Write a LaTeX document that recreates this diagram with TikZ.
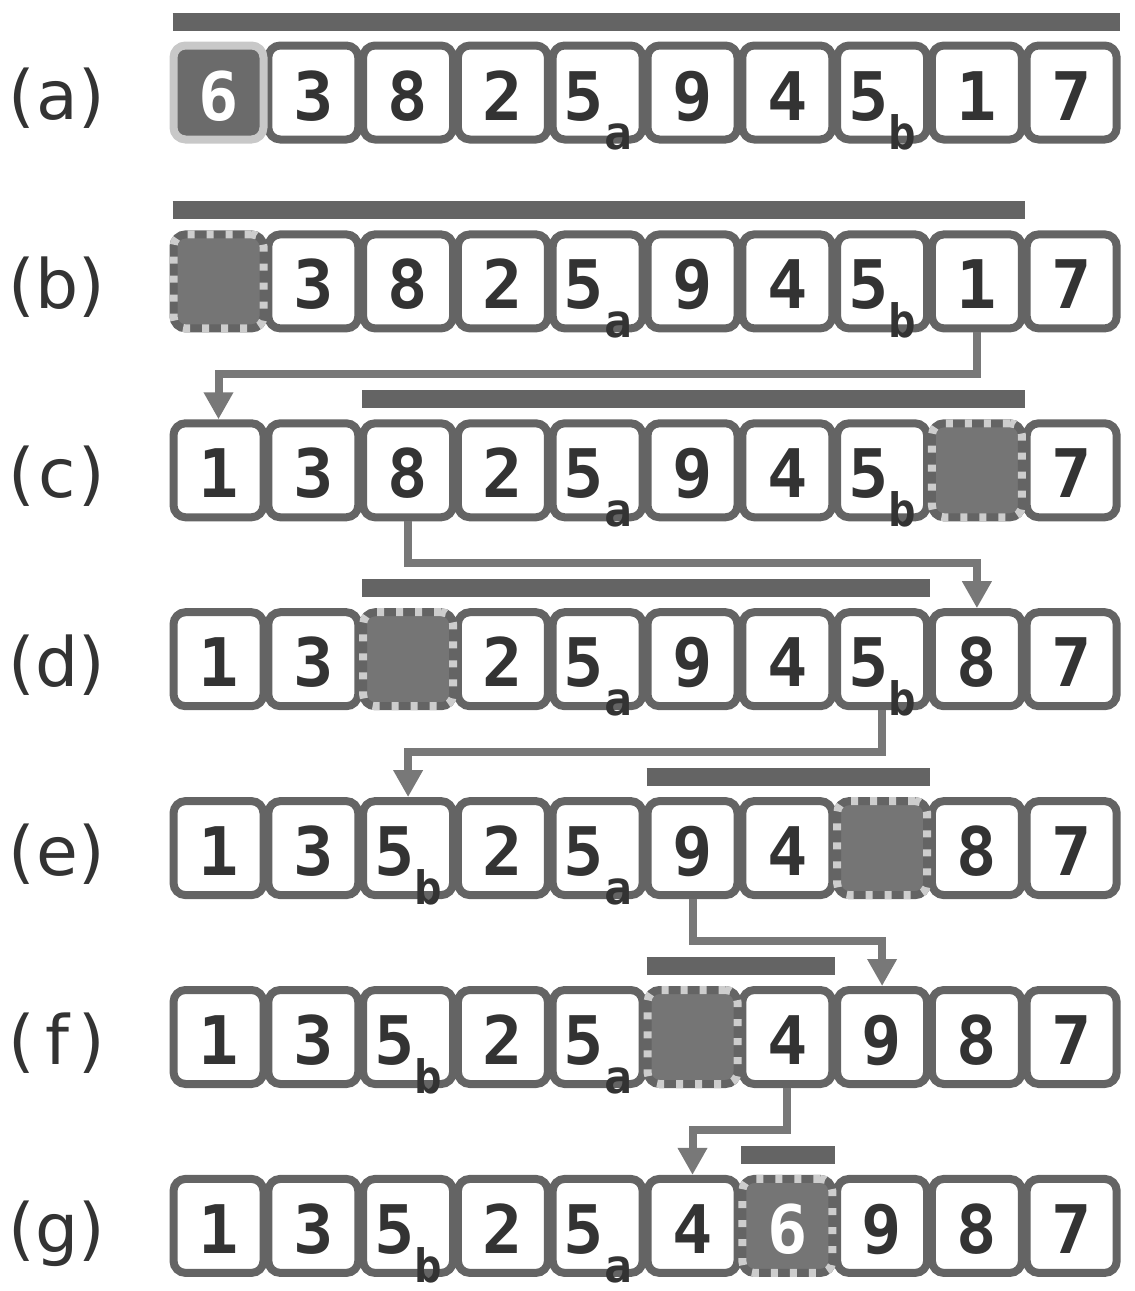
\documentclass[tikz,border=0pt]{standalone}
\usepackage{fontspec}
\setmainfont{DejaVu Sans Mono}
\newfontfamily\labfam{DejaVu Sans}
\usetikzlibrary{arrows.meta}
\definecolor{cellline}{HTML}{646464}
\definecolor{arrowc}{HTML}{787878}
\definecolor{txt}{HTML}{333333}
\definecolor{holefill}{HTML}{757575}
\definecolor{pivfill}{HTML}{6B6B6B}
\definecolor{lightb}{HTML}{C8C8C8}
\definecolor{dashc}{HTML}{CDCDCD}
\newcommand\digitfnt{\fontsize{67}{67}\selectfont\bfseries}
\newcommand\subfnt{\fontsize{46}{46}\selectfont\bfseries}
\newcommand\labfnt{\labfam\fontsize{68}{68}\selectfont}
\newcommand\fivea{5\raisebox{-29pt}{\subfnt a}}
\newcommand\fiveb{5\raisebox{-29pt}{\subfnt b}}
\newcommand\lbl[1]{(\kern1.5pt\makebox[40pt]{#1}\kern1.5pt)}
\begin{document}
\begin{tikzpicture}[x=1pt,y=-1pt,
  cellbox/.style={draw=cellline, fill=white, line width=8pt, rounded corners=12pt,
    minimum width=90pt, minimum height=94pt, inner sep=0pt, text=txt,
    font=\digitfnt, text height=55pt, text depth=0pt},
  holebox/.style={cellbox, fill=holefill,
    postaction={draw=dashc, line width=8pt, dash pattern=on 7pt off 12pt}},
  pivotbox/.style={cellbox, fill=pivfill, draw=lightb, text=white},
  bar/.style={draw=cellline, line width=18pt},
  arr/.style={draw=arrowc, line width=8pt, -{Triangle[width=28pt,length=27pt]}},
  lab/.style={font=\labfnt, text=txt, inner sep=0pt, anchor=base}
]
\useasboundingbox (0,0) rectangle (1135,1291);

% row (a)
\node[lab] (la) at (57,119.5) {\lbl{a}};
\foreach \i/\cc in {1/3,2/8,3/2,4/\fivea,5/9,6/4,7/\fiveb,8/1,9/7}
  \node[cellbox] (a\i) at ({218.5+94.8*\i},92.5) {\cc};
\node[pivotbox] (a0) at (218.5,92.5) {6};
\draw[bar] ([xshift=3pt,yshift=20pt]a0.north west) -- ([xshift=-1pt,yshift=20pt]a9.north east);

% row (b)
\node[lab] (lb) at (57,308.4) {\lbl{b}};
\foreach \i/\cc in {1/3,2/8,3/2,4/\fivea,5/9,6/4,7/\fiveb,8/1,9/7}
  \node[cellbox] (b\i) at ({218.5+94.8*\i},281.4) {\cc};
\node[holebox] (b0) at (218.5,281.4) {};
\draw[bar] ([xshift=3pt,yshift=20pt]b0.north west) -- ([xshift=-1pt,yshift=20pt]b8.north east);

% row (c)
\node[lab] (lc) at (57,497.3) {\lbl{c}};
\foreach \i/\cc in {0/1,1/3,2/8,3/2,4/\fivea,5/9,6/4,7/\fiveb,9/7}
  \node[cellbox] (c\i) at ({218.5+94.8*\i},470.3) {\cc};
\node[holebox] (c8) at ({218.5+94.8*8},470.3) {};
\draw[bar] ([xshift=3pt,yshift=20pt]c2.north west) -- ([xshift=-1pt,yshift=20pt]c8.north east);

% row (d)
\node[lab] (ld) at (57,686.2) {\lbl{d}};
\foreach \i/\cc in {0/1,1/3,3/2,4/\fivea,5/9,6/4,7/\fiveb,8/8,9/7}
  \node[cellbox] (d\i) at ({218.5+94.8*\i},659.2) {\cc};
\node[holebox] (d2) at ({218.5+94.8*2},659.2) {};
\draw[bar] ([xshift=3pt,yshift=20pt]d2.north west) -- ([xshift=-1pt,yshift=20pt]d7.north east);

% row (e)
\node[lab] (le) at (57,875.1) {\lbl{e}};
\foreach \i/\cc in {0/1,1/3,2/\fiveb,3/2,4/\fivea,5/9,6/4,8/8,9/7}
  \node[cellbox] (e\i) at ({218.5+94.8*\i},848.1) {\cc};
\node[holebox] (e7) at ({218.5+94.8*7},848.1) {};
\draw[bar] ([xshift=3pt,yshift=20pt]e5.north west) -- ([xshift=-1pt,yshift=20pt]e7.north east);

% row (f)
\node[lab] (lf) at (57,1064) {\lbl{f}};
\foreach \i/\cc in {0/1,1/3,2/\fiveb,3/2,4/\fivea,6/4,7/9,8/8,9/7}
  \node[cellbox] (f\i) at ({218.5+94.8*\i},1037) {\cc};
\node[holebox] (f5) at ({218.5+94.8*5},1037) {};
\draw[bar] ([xshift=3pt,yshift=20pt]f5.north west) -- ([xshift=-1pt,yshift=20pt]f6.north east);

% row (g)
\node[lab] (lg) at (57,1252.9) {\lbl{g}};
\foreach \i/\cc in {0/1,1/3,2/\fiveb,3/2,4/\fivea,5/4,7/9,8/8,9/7}
  \node[cellbox] (g\i) at ({218.5+94.8*\i},1225.9) {\cc};
\node[holebox, text=white] (g6) at ({218.5+94.8*6},1225.9) {6};
\draw[bar] ([xshift=3pt,yshift=20pt]g6.north west) -- ([xshift=-1pt,yshift=20pt]g6.north east);

% moves
\draw[arr] (b8.south) -- ++(0,41.5) -| (c0.north);
\draw[arr] (c2.south) -- ++(0,41.5) -| (d8.north);
\draw[arr] (d7.south) -- ++(0,41.5) -| (e2.north);
\draw[arr] (e5.south) -- ++(0,41.5) -| (f7.north);
\draw[arr] (f6.south) -- ++(0,41.5) -| (g5.north);
\end{tikzpicture}
\end{document}
